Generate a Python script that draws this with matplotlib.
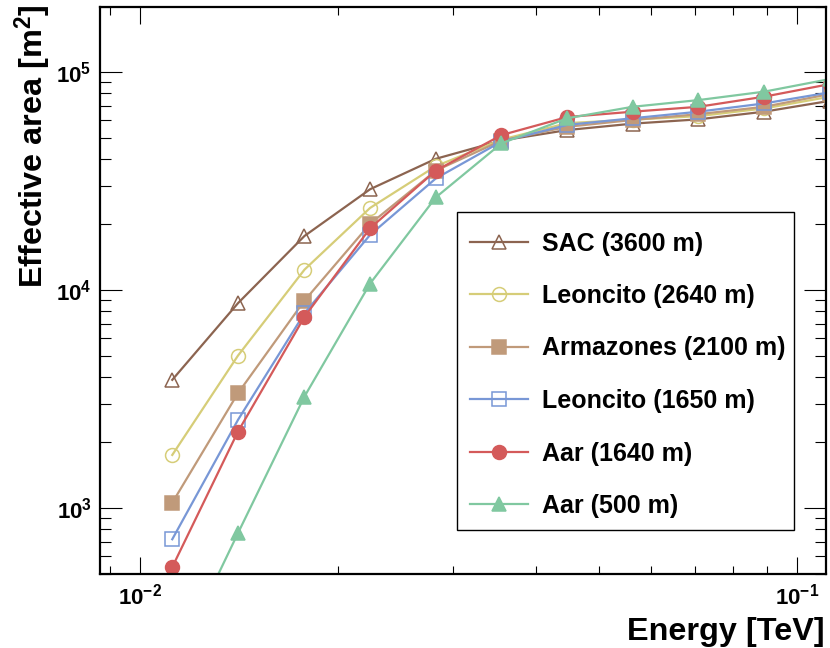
import numpy as np
import matplotlib
matplotlib.use("Agg")
import matplotlib.pyplot as plt
from matplotlib.patches import Rectangle
from matplotlib.ticker import LogLocator, FuncFormatter, NullFormatter

plt.rcParams["font.family"] = ["Liberation Sans", "DejaVu Sans"]
plt.rcParams["font.weight"] = "bold"
plt.rcParams["mathtext.fontset"] = "custom"
plt.rcParams["mathtext.rm"] = "Liberation Sans:bold"
plt.rcParams["mathtext.bf"] = "Liberation Sans:bold"
plt.rcParams["mathtext.it"] = "Liberation Sans:bold"

# %%
# Effective area vs. energy for different sites / altitudes.

energy = [0.0112, 0.0141, 0.0178, 0.0224, 0.0282, 0.0355, 0.0447, 0.0562, 0.0708, 0.0891, 0.1122]

sac_3600 = [3870, 8700, 17700, 29000, 40000, 48500, 54200, 58000, 60700, 65800, 73800]
leoncito_2640 = [1750, 5000, 12400, 23800, 37000, 49000, 58300, 60500, 62800, 68100, 77100]
armazones_2100 = [1056, 3360, 8940, 20100, 35300, 48500, 56100, 60300, 64100, 69300, 79300]
leoncito_1650 = [718, 2535, 7820, 17900, 32500, 48000, 57200, 61400, 65800, 71800, 80700]
aar_1640 = [535, 2240, 7530, 19200, 35300, 51400, 62200, 65800, 69300, 77100, 88100]
aar_500 = [180, 766, 3245, 10700, 26600, 47100, 61400, 69300, 74400, 81300, 92900]

series = [
    ("SAC (3600 m)", sac_3600, "#8c6450", "^", False),
    ("Leoncito (2640 m)", leoncito_2640, "#d6cd78", "o", False),
    ("Armazones (2100 m)", armazones_2100, "#c09a7a", "s", True),
    ("Leoncito (1650 m)", leoncito_1650, "#7897d6", "s", False),
    ("Aar (1640 m)", aar_1640, "#d45a5a", "o", True),
    ("Aar (500 m)", aar_500, "#80c8a0", "^", True),
]

# %%
W, H = 830, 648
fig = plt.figure(figsize=(W / 100, H / 100), dpi=100)
ax = fig.add_axes([100 / W, 1 - 573.5 / H, 726 / W, 567 / H])

for label, vals, color, marker, filled in series:
    ax.plot(
        energy, vals, color=color, lw=1.6, marker=marker, ms=10,
        markerfacecolor=color if filled else "none", markeredgecolor=color,
        markeredgewidth=1.1, label=label,
    )

ax.set_xscale("log")
ax.set_yscale("log")
ax.set_xlim(0.008694, 0.1107)
ax.set_ylim(500, 2.0e5)

fmt = FuncFormatter(lambda v, p: r"$\mathbf{10^{%d}}$" % round(np.log10(v)))
for axis in (ax.xaxis, ax.yaxis):
    axis.set_major_locator(LogLocator(base=10))
    axis.set_minor_locator(LogLocator(base=10, subs=np.arange(2, 10)))
    axis.set_major_formatter(fmt)
    axis.set_minor_formatter(NullFormatter())

ax.tick_params(which="both", direction="in", top=True, right=True, width=0.8, labelsize=16)
ax.tick_params(axis="y", which="major", length=16, pad=6)
ax.tick_params(axis="y", which="minor", length=8)
ax.tick_params(axis="x", which="major", length=12, pad=7)
ax.tick_params(axis="x", which="minor", length=6)
for sp in ax.spines.values():
    sp.set_linewidth(1.6)

fig.text(825 / W, 1 - 640 / H, "Energy [TeV]", ha="right", va="baseline", fontsize=23.3, fontweight="bold")
fig.text(33 / W, 1 - 4 / H, r"Effective area [m$^{2}$]", rotation=90, ha="center", va="top",
         fontsize=23.3, fontweight="bold")

# legend: entries without frame, box drawn separately (ROOT-like padding)
box = Rectangle((457 / W, 1 - 530 / H), 337 / W, 318 / H, transform=fig.transFigure,
                facecolor="white", edgecolor="black", lw=1.0, zorder=4, clip_on=False)
ax.add_patch(box)
leg = ax.legend(
    loc="upper left", bbox_to_anchor=(470 / W, 1 - 231.5 / H), bbox_transform=fig.transFigure,
    borderaxespad=0, borderpad=0, fontsize=18, frameon=False,
    labelspacing=1.14, handlelength=2.3, handletextpad=0.56,
)
leg.set_zorder(5)

fig.savefig("out.png", dpi=100)
